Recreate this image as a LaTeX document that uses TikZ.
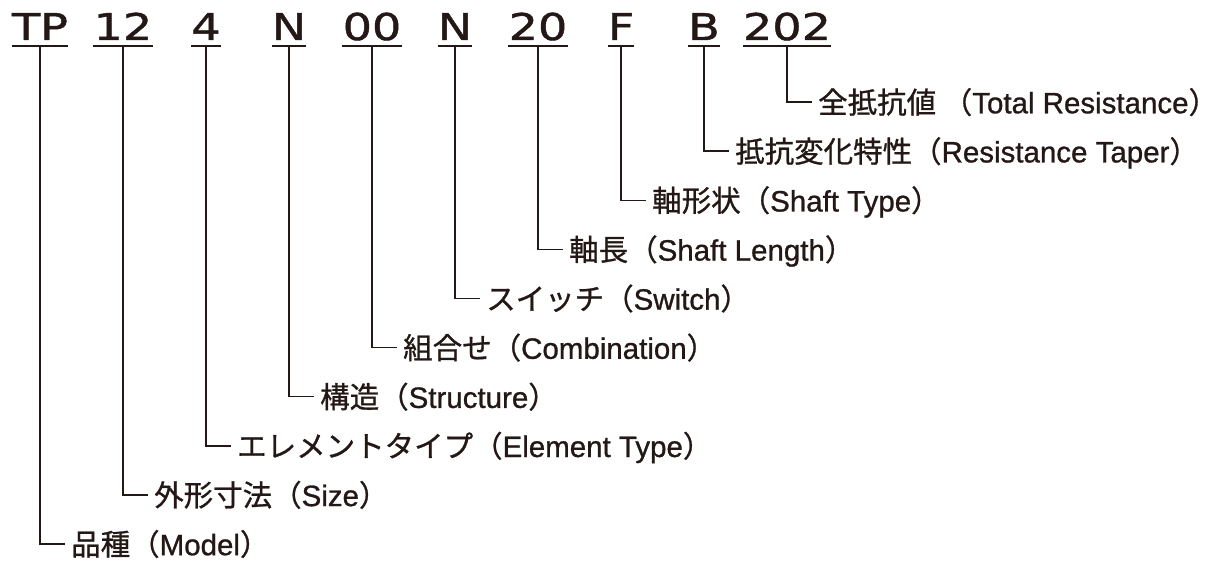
\documentclass[tikz,border=0pt]{standalone}
\usepackage{fontspec}
\setmainfont{Liberation Sans}[FakeBold=0.9]
\newfontfamily\jpfont{Noto Sans CJK JP}[FakeBold=0.9]
\newfontfamily\codefont{DejaVu Sans}[FakeStretch=1.25, FakeBold=1.2]
\definecolor{ink}{RGB}{35,24,21}
\newcommand{\partlabel}[2]{{\jpfont #1（}#2{\jpfont ）}}

\tikzset{
  code/.style={inner sep=0pt, anchor=base, text depth=5.5bp, text=ink,
    font=\codefont\fontsize{37}{40}\selectfont},
  part/.style={inner xsep=6bp, inner ysep=0pt, anchor=west, text=ink,
    text height=26bp, text depth=3.6bp, font=\fontsize{29.6}{33}\selectfont},
  uline/.style={draw=ink, line width=2bp},
  lead/.style={draw=ink, line width=1.4bp},
}

\begin{document}
\begin{tikzpicture}[x=1bp, y=-1bp]
  \useasboundingbox (0,0) rectangle (1223,566);

  % model number
  \node[code] (tp)   at (40,40)  {TP};
  \node[code] (c12)  at (123,40) {12};
  \node[code] (c4)   at (206,40) {4};
  \node[code] (n1)   at (289,40) {N};
  \node[code] (c00)  at (372,40) {00};
  \node[code] (n2)   at (455,40) {N};
  \node[code] (c20)  at (538,40) {20};
  \node[code] (f)    at (621,40) {F};
  \node[code] (b)    at (704,40) {B};
  \node[code] (c202) at (787,40) {202};

  % meanings
  \node[part] (model)       at (65,544)    {\partlabel{品種}{Model}};
  \node[part] (size)        at (148,494.9) {\partlabel{外形寸法}{Size}};
  \node[part] (element)     at (231,445.8) {\partlabel{エレメントタイプ}{Element Type}};
  \node[part] (structure)   at (314,396.7) {\partlabel{構造}{Structure}};
  \node[part] (combination) at (397,347.6) {\partlabel{組合せ}{Combination}};
  \node[part] (switch)      at (480,298.5) {\partlabel{スイッチ}{Switch}};
  \node[part] (length)      at (563,249.4) {\partlabel{軸長}{Shaft Length}};
  \node[part] (shaft)       at (646,200.3) {\partlabel{軸形状}{Shaft Type}};
  \node[part] (taper)       at (729,151.2) {\partlabel{抵抗変化特性}{Resistance Taper}};
  \node[part] (total)       at (812,102.1) {\partlabel{全抵抗値\ }{Total Resistance}};

  \foreach \c in {tp,c12,c4,n1,c00,n2,c20,f,b,c202}
    \draw[uline] (\c.south west) -- (\c.south east);

  \draw[lead] (tp.south)   |- (model.west);
  \draw[lead] (c12.south)  |- (size.west);
  \draw[lead] (c4.south)   |- (element.west);
  \draw[lead] (n1.south)   |- (structure.west);
  \draw[lead] (c00.south)  |- (combination.west);
  \draw[lead] (n2.south)   |- (switch.west);
  \draw[lead] (c20.south)  |- (length.west);
  \draw[lead] (f.south)    |- (shaft.west);
  \draw[lead] (b.south)    |- (taper.west);
  \draw[lead] (c202.south) |- (total.west);
\end{tikzpicture}
\end{document}
